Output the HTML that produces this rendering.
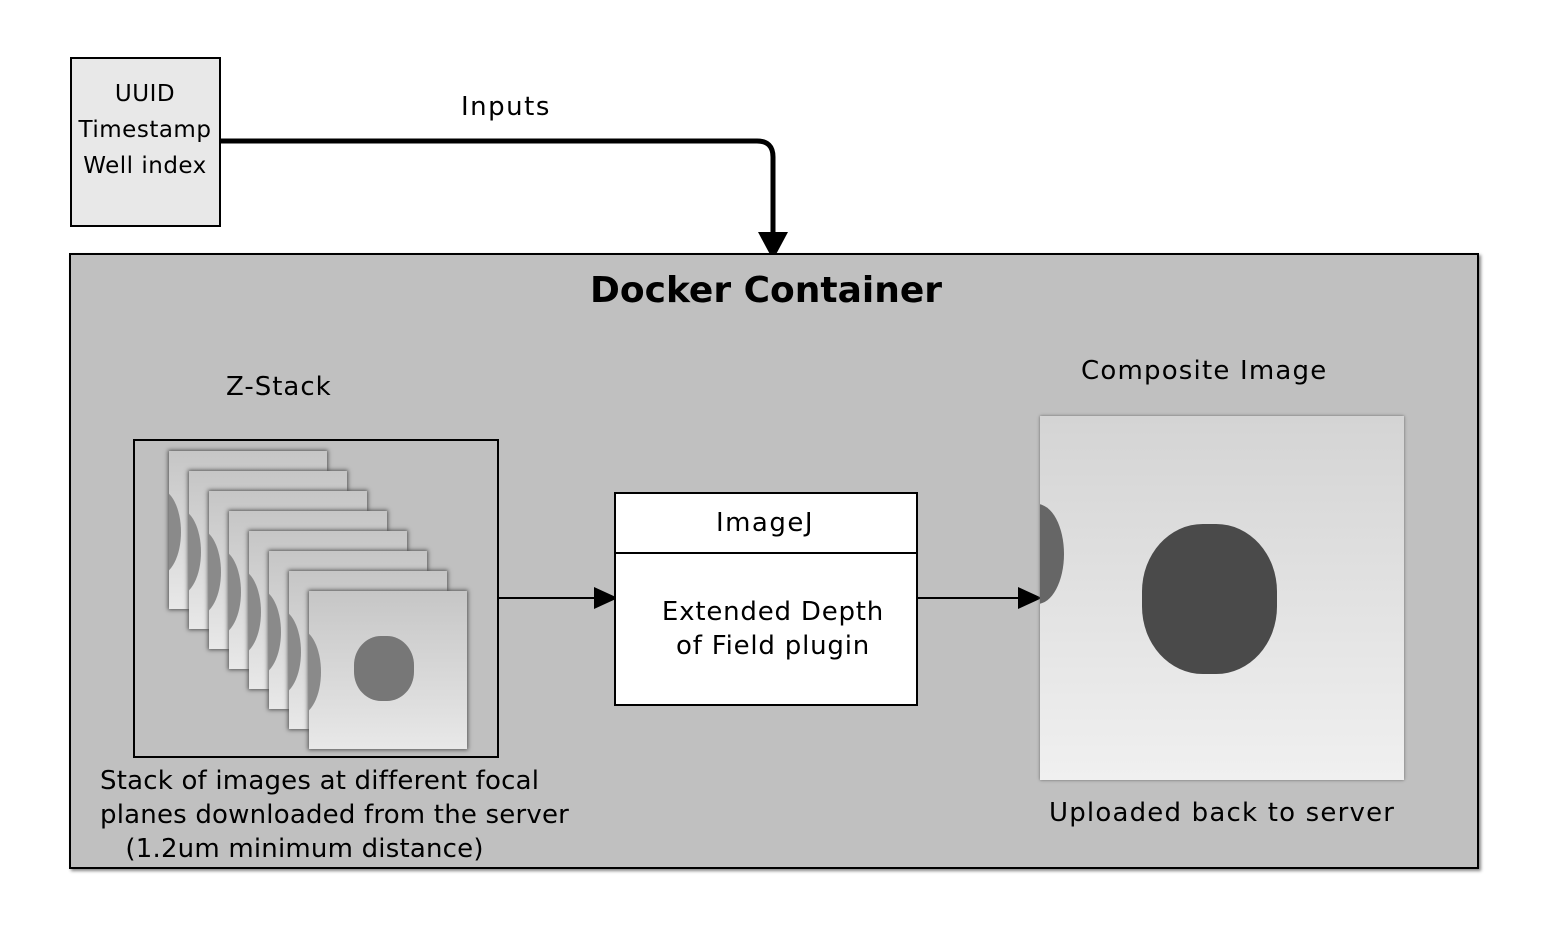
<!DOCTYPE html>
<html><head><style>
body{margin:0;width:1542px;height:950px;background:#fff;position:relative;font-family:"DejaVu Sans","Liberation Sans",sans-serif;overflow:hidden}
.a{position:absolute}
.t{position:absolute;color:#000;white-space:nowrap}
.fr{position:absolute;width:158px;height:158px;background:linear-gradient(180deg,#c6c6c6,#e8e8e8);box-shadow:0 0 4px 1px #555;overflow:hidden}
.fr::before{content:"";position:absolute;left:-32px;top:38px;width:44px;height:86px;border-radius:50%;background:#8a8a8a}
</style></head><body>
<div class="a" style="left:70px;top:57px;width:147px;height:166px;background:#e8e8e8;border:2px solid #000"></div>
<div class="t" style="left:0;top:76px;width:290px;text-align:center;font-size:23px;line-height:36px;letter-spacing:0.5px">UUID<br>Timestamp<br>Well index</div>
<div class="t" style="left:461px;top:92px;font-size:26px;letter-spacing:1.5px">Inputs</div>
<svg class="a" style="left:0;top:0" width="1542" height="950">
<path d="M219 141 H757 Q773 141 773 157 V236" fill="none" stroke="#000" stroke-width="5"/>
<polygon points="758,232 788,232 773,260" fill="#000"/>
</svg>
<div class="a" style="left:69px;top:253px;width:1406px;height:612px;background:#c0c0c0;border:2px solid #000;box-shadow:2px 2px 3px #888"></div>
<div class="t" style="left:590px;top:270px;font-size:36px;font-weight:bold">Docker Container</div>
<div class="t" style="left:226px;top:372px;font-size:26px;letter-spacing:1px">Z-Stack</div>
<div class="a" style="left:133px;top:439px;width:362px;height:315px;border:2px solid #000"></div>
<div class="fr" style="left:169px;top:451px"></div>
<div class="fr" style="left:189px;top:471px"></div>
<div class="fr" style="left:209px;top:491px"></div>
<div class="fr" style="left:229px;top:511px"></div>
<div class="fr" style="left:249px;top:531px"></div>
<div class="fr" style="left:269px;top:551px"></div>
<div class="fr" style="left:289px;top:571px"></div>
<div class="fr" style="left:309px;top:591px"><div class="a" style="left:45px;top:45px;width:60px;height:65px;border-radius:45%;background:#777"></div></div>
<div class="t" style="left:100px;top:764px;font-size:26px;line-height:34px;letter-spacing:0.2px">Stack of images at different focal<br>planes downloaded from the server<br>&nbsp;&nbsp;&nbsp;(1.2um minimum distance)</div>
<svg class="a" style="left:0;top:0" width="1542" height="950">
<line x1="497" y1="598" x2="600" y2="598" stroke="#000" stroke-width="2"/>
<polygon points="594,587 618,598 594,609" fill="#000"/>
<line x1="915" y1="598" x2="1022" y2="598" stroke="#000" stroke-width="2"/>
<polygon points="1018,587 1042,598 1018,609" fill="#000"/>
</svg>
<div class="a" style="left:614px;top:492px;width:300px;height:210px;background:#fff;border:2px solid #000"></div>
<div class="a" style="left:614px;top:552px;width:302px;height:2px;background:#000"></div>
<div class="t" style="left:606px;top:508px;width:318px;text-align:center;font-size:26px;letter-spacing:1.5px">ImageJ</div>
<div class="t" style="left:614px;top:595px;width:318px;text-align:center;font-size:26px;line-height:34px;letter-spacing:0.8px">Extended Depth<br>of Field plugin</div>
<div class="t" style="left:1081px;top:356px;font-size:26px;letter-spacing:1.2px">Composite Image</div>
<div class="a" style="left:1040px;top:416px;width:364px;height:364px;background:linear-gradient(180deg,#d4d4d4,#f0f0f0);box-shadow:0 0 3px #666;overflow:hidden">
<div class="a" style="left:-30px;top:88px;width:54px;height:100px;border-radius:50%;background:#666"></div>
<div class="a" style="left:102px;top:108px;width:135px;height:150px;border-radius:45%;background:#4a4a4a"></div>
</div>
<div class="t" style="left:1049px;top:798px;font-size:26px;letter-spacing:1.2px">Uploaded back to server</div>
</body></html>
